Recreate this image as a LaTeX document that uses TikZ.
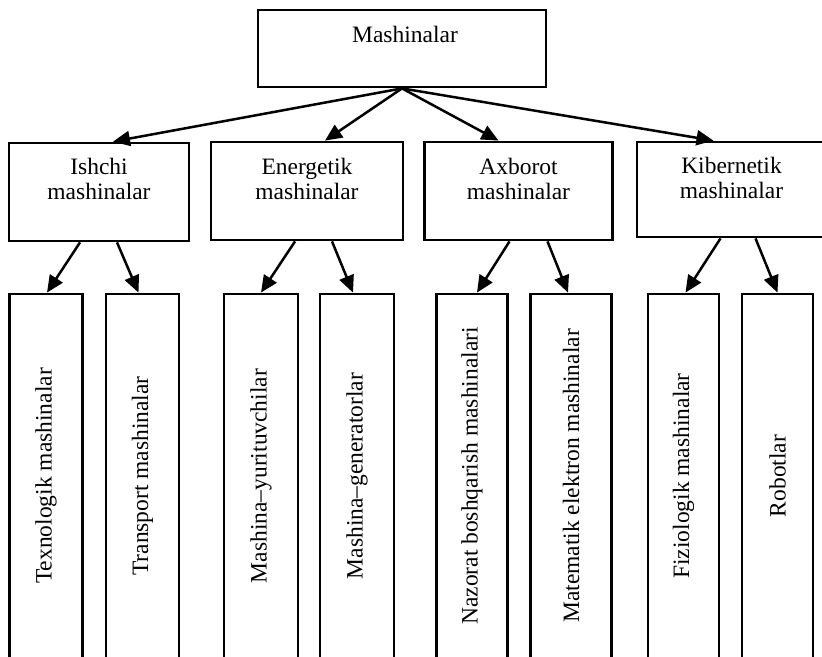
\documentclass[tikz,border=0pt]{standalone}
\usepackage{fontspec}
\setmainfont{Liberation Serif}
\usetikzlibrary{arrows.meta,positioning}

\begin{document}
\begin{tikzpicture}[x=1pt, y=-1pt, line width=2.8pt, line join=miter,
  box/.style={draw, rectangle, inner sep=0pt},
  txt/.style={inner sep=0pt, align=center, font=\fontsize{23.5}{25}\selectfont},
  arr/.style={line width=2.5pt, -{Triangle[length=17pt, width=15pt]}}]

  \useasboundingbox (0,0) rectangle (822,656);

  % ── yuqori blok ──
  \node[box, minimum width=288pt, minimum height=77pt] (mash) at (402,48.5) {};
  \node[txt, anchor=north] (mashT) at (405,25) {Mashinalar};

  % ── ikkinchi qator ──
  \node[box, minimum width=180pt, minimum height=98pt] (ishchi) at (99,192) {};
  \node[box, minimum width=192pt, minimum height=98pt] (energ)  at (307,191) {};
  \node[box, minimum width=188pt, minimum height=98pt] (axb)    at (518.5,191) {};
  \node[box, minimum width=189pt, minimum height=95pt] (kib)    at (731.5,189.5) {};

  \node[txt, anchor=north] (ishchiT) at (99,157)    {Ishchi\\mashinalar};
  \node[txt, anchor=north] (energT)  at (307,157)   {Energetik\\mashinalar};
  \node[txt, anchor=north] (axbT)    at (518.5,157) {Axborot\\mashinalar};
  \node[txt, anchor=north] (kibT)    at (731.5,156) {Kibernetik\\mashinalar};

  % ── uchinchi qator (pastki chegara rasmdan tashqarida) ──
  \node[box, minimum width=73pt, minimum height=366pt] (tex)   at (46,477)    {};
  \node[box, minimum width=73pt, minimum height=366pt] (trans) at (142.5,477) {};
  \node[box, minimum width=74pt, minimum height=366pt] (yur)   at (261,477)   {};
  \node[box, minimum width=74pt, minimum height=366pt] (gen)   at (357,477)   {};
  \node[box, minimum width=71pt, minimum height=366pt] (naz)   at (472,477)   {};
  \node[box, minimum width=81pt, minimum height=366pt] (mat)   at (571,477)   {};
  \node[box, minimum width=71pt, minimum height=366pt] (fiz)   at (683.5,477) {};
  \node[box, minimum width=71pt, minimum height=366pt] (rob)   at (777.5,477) {};

  \node[txt, rotate=90] (texT)   at (46,476)    {Texnologik mashinalar};
  \node[txt, rotate=90] (transT) at (142.5,476) {Transport mashinalar};
  \node[txt, rotate=90] (yurT)   at (261,476)   {Mashina--yurituvchilar};
  \node[txt, rotate=90] (genT)   at (357,476)   {Mashina--generatorlar};
  \node[txt, rotate=90] (nazT)   at (472,476)   {Nazorat boshqarish mashinalari};
  \node[txt, rotate=90] (matT)   at (571,476)   {Matematik elektron mashinalar};
  \node[txt, rotate=90] (fizT)   at (683.5,476) {Fiziologik mashinalar};
  \node[txt, rotate=90] (robT)   at (777.5,476) {Robotlar};

  % ── strelkalar ──
  \draw[arr] (mash.south) -- ([xshift=14pt]ishchi.north);
  \draw[arr] (mash.south) -- ([xshift=18pt]energ.north);
  \draw[arr] (mash.south) -- ([xshift=-20pt]axb.north);
  \draw[arr] (mash.south) -- ([xshift=-18pt]kib.north);

  \draw[arr] ([xshift=-19pt]ishchi.south) -- ([xshift=1pt]tex.north);
  \draw[arr] ([xshift=18pt]ishchi.south)  -- ([xshift=-4pt]trans.north);
  \draw[arr] ([xshift=-12pt]energ.south)  -- (yur.north);
  \draw[arr] ([xshift=25pt]energ.south)   -- ([xshift=-4pt]gen.north);
  \draw[arr] ([xshift=-9pt]axb.south)     -- ([xshift=5pt]naz.north);
  \draw[arr] ([xshift=29pt]axb.south)     -- ([xshift=-3pt]mat.north);
  \draw[arr] ([xshift=-11pt]kib.south)    -- ([xshift=2pt]fiz.north);
  \draw[arr] ([xshift=24pt]kib.south)     -- (rob.north);
\end{tikzpicture}
\end{document}
